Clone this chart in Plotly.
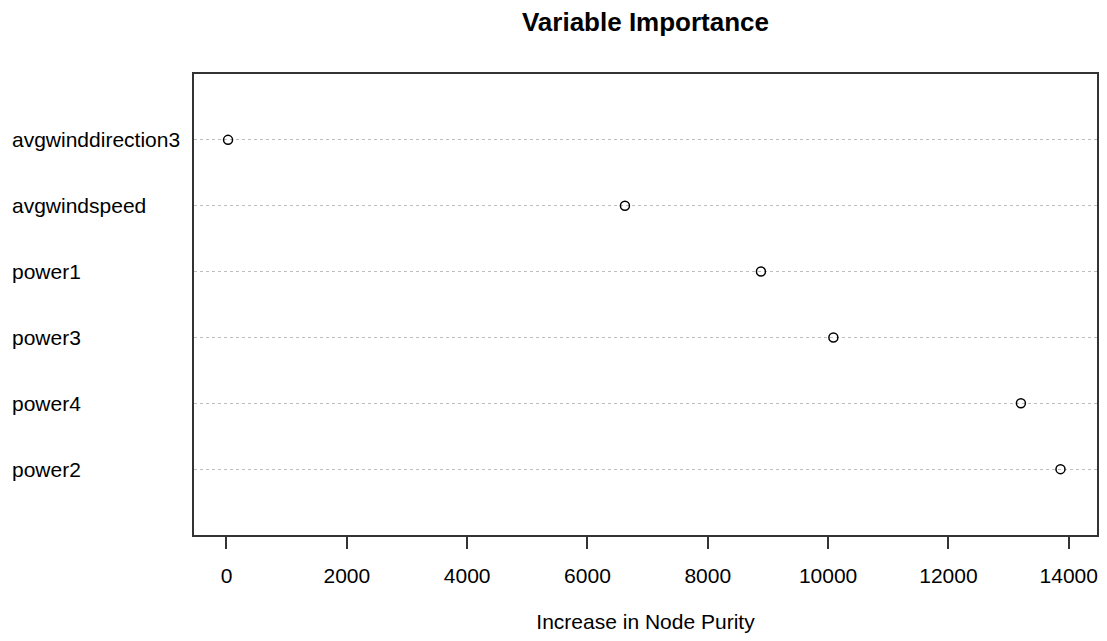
import plotly.graph_objects as go

# Data (bottom to top, as in R dotchart)
variables = ["power2", "power4", "power3", "power1", "avgwindspeed", "avgwinddirection3"]
importance = [13863, 13205, 10088, 8884, 6623, 26]
positions = [1, 2, 3, 4, 5, 6]
x_ticks = [0, 2000, 4000, 6000, 8000, 10000, 12000, 14000]

FONT = "Liberation Sans, Arial, sans-serif"

# page body has an 8px margin; figure sized so the page content fits 1107x641
W, H = 1091, 625
L, R, T, B = 186, 2, 66, 98

fig = go.Figure()
fig.add_trace(go.Scatter(
    x=importance, y=positions, mode="markers",
    marker=dict(symbol="circle-open", size=9, color="black", line=dict(width=1.5, color="black")),
    showlegend=False, hoverinfo="x+text", text=variables,
))

for v, p in zip(variables, positions):
    fig.add_annotation(
        text=v, x=(1.7 - L) / (W - L - R), xref="paper", y=p, yref="y",
        xanchor="left", yanchor="middle", showarrow=False,
        font=dict(family=FONT, size=21, color="black"),
    )

fig.update_layout(
    width=W, height=H,
    margin=dict(l=L, r=R, t=T, b=B, autoexpand=False),
    paper_bgcolor="white", plot_bgcolor="white",
    title=dict(text="<b>Variable Importance</b>", x=(L + (W - R)) / 2 / W, xanchor="center",
               xref="container", y=1 - 14 / H, yref="container", yanchor="middle",
               font=dict(family=FONT, size=26, color="black")),
    font=dict(family=FONT, size=21, color="black"),
)

fig.update_xaxes(
    range=[-540, 14470], tickvals=x_ticks, ticktext=[str(t) for t in x_ticks],
    ticks="outside", ticklen=12, tickwidth=1.5, tickcolor="#333333",
    ticklabelstandoff=9, ticklabeloverflow="allow", automargin=False,
    showline=True, mirror=True, linecolor="#333333", linewidth=1.5,
    showgrid=False, zeroline=False,
    tickfont=dict(family=FONT, size=21, color="black"),
    title=dict(text="Increase in Node Purity", standoff=34,
               font=dict(family=FONT, size=21, color="black")),
)
fig.update_yaxes(
    range=[0, 7], tickvals=positions, showticklabels=False, ticks="", automargin=False,
    showline=True, mirror=True, linecolor="#333333", linewidth=1.5,
    showgrid=True, gridcolor="#BEBEBE", griddash="dot", gridwidth=1,
    zeroline=False,
)

fig.write_html("out.html")
